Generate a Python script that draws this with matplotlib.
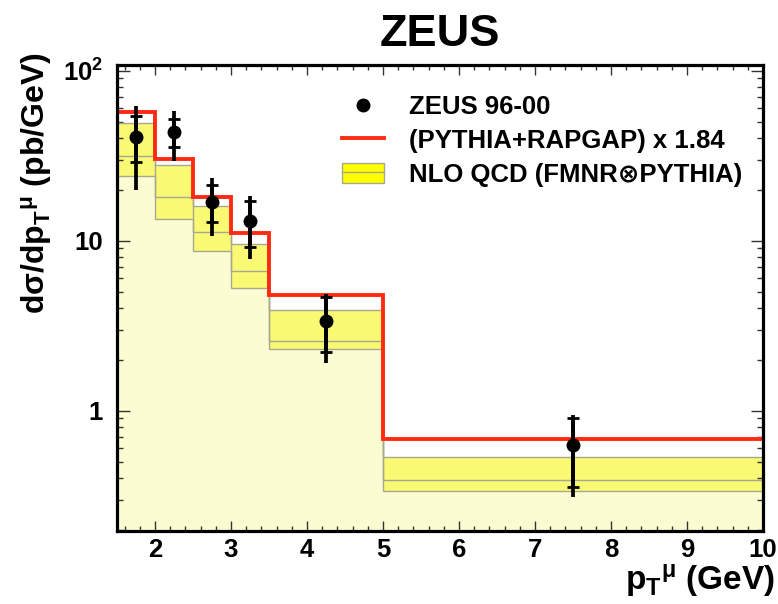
import matplotlib
matplotlib.use("Agg")
import matplotlib.pyplot as plt
from matplotlib.ticker import MultipleLocator, LogLocator, FuncFormatter, NullFormatter
from matplotlib.lines import Line2D
from matplotlib.patches import Patch
import numpy as np

plt.rcParams['font.family'] = ['Liberation Sans', 'DejaVu Sans']
plt.rcParams['font.weight'] = 'bold'
plt.rcParams['mathtext.fontset'] = 'custom'
plt.rcParams['mathtext.rm'] = 'Liberation Sans:bold'
plt.rcParams['mathtext.it'] = 'Liberation Sans:bold'
plt.rcParams['mathtext.bf'] = 'Liberation Sans:bold'
plt.rcParams['mathtext.sf'] = 'Liberation Sans:bold'

# ---- data ----
bin_edges = [1.5, 2.0, 2.5, 3.0, 3.5, 5.0, 10.0]
pt_centers = [1.75, 2.25, 2.75, 3.25, 4.25, 7.5]
zeus_xsec = [40.9, 43.8, 17.0, 13.1, 3.38, 0.63]
zeus_stat_hi = [54.1, 52.0, 21.3, 17.2, 4.65, 0.90]
zeus_stat_lo = [29.2, 35.7, 12.9, 9.2, 2.21, 0.354]
zeus_tot_hi = [62.3, 58.2, 23.3, 18.3, 4.87, 0.94]
zeus_tot_lo = [19.9, 29.6, 10.6, 7.77, 1.91, 0.31]
pythia_rapgap = [56.9, 30.2, 18.0, 11.05, 4.78, 0.682]
nlo_upper = [49.0, 27.9, 15.9, 9.6, 3.93, 0.534]
nlo_central = [31.6, 18.1, 11.2, 6.6, 2.57, 0.389]
nlo_lower = [23.9, 13.4, 8.7, 5.27, 2.31, 0.335]

xticks = [2, 3, 4, 5, 6, 7, 8, 9, 10]
ytick_labels = {1: '1', 10: '10', 100: r'10$^{\mathbf{2}}$'}

W, H = 778, 604
fig = plt.figure(figsize=(W / 100, H / 100), dpi=100)
L, R, T, B = 117, 763, 65, 531
ax = fig.add_axes([L / W, 1 - B / H, (R - L) / W, (B - T) / H])
ax.set_yscale('log')
ax.set_xlim(1.5, 10)
ax.set_ylim(0.196, 108)

band_col = '#f9f974'
pale_col = '#fcfcd2'
gray = '#a8a890'

y = np.array(zeus_xsec)
ax.stairs(nlo_lower, bin_edges, baseline=1e-3, fill=True, color=pale_col, lw=0, zorder=1)
ax.stairs(nlo_upper, bin_edges, baseline=nlo_lower, fill=True, color=band_col, lw=0, zorder=1.5)
for vals in (nlo_upper, nlo_central, nlo_lower):
    ax.stairs(vals, bin_edges, baseline=None, color=gray, lw=1.0, zorder=2)
ax.stairs(pythia_rapgap, bin_edges, baseline=None, color='#ff2a12', lw=2.8, zorder=3)

ax.errorbar(pt_centers, y, yerr=[y - np.array(zeus_tot_lo), np.array(zeus_tot_hi) - y],
            fmt='none', ecolor='black', elinewidth=2.7, capsize=0, zorder=4)
ax.errorbar(pt_centers, y, yerr=[y - np.array(zeus_stat_lo), np.array(zeus_stat_hi) - y],
            fmt='o', color='black', markersize=9, elinewidth=2.7, capsize=4.2, capthick=2.0, zorder=5)

# ticks
ax.set_xticks(xticks)
ax.xaxis.set_minor_locator(MultipleLocator(0.2))
ax.yaxis.set_major_locator(LogLocator(base=10, numticks=10))
ax.yaxis.set_minor_locator(LogLocator(base=10, subs=np.arange(2, 10), numticks=20))
ax.yaxis.set_major_formatter(FuncFormatter(lambda v, p: ytick_labels.get(int(round(v)), '') if v >= 1 else ''))
ax.yaxis.set_minor_formatter(NullFormatter())
ax.tick_params(which='both', direction='in', top=True, right=True, labelsize=18.5, color='#333333')
ax.tick_params(axis='x', which='major', length=7.5, width=1.0, pad=5)
ax.tick_params(axis='x', which='minor', length=3.6, width=1.0)
ax.tick_params(axis='y', which='major', length=9, width=1.0, pad=10)
ax.tick_params(axis='y', which='minor', length=4.5, width=1.0)
for sp in ax.spines.values():
    sp.set_linewidth(2.3)
    sp.set_zorder(6)

# labels
fig.text(440 / W, 1 - 46 / H, 'ZEUS', ha='center', va='baseline', fontsize=32.5, fontweight='bold')
fig.text(775 / W, 1 - 590 / H, r'p$_{\mathbf{T}}$$^{\mu}$ (GeV)', ha='right', va='baseline', fontsize=24)
fig.text(19 / W, 1 - 52 / H, r'd$\sigma$/dp$_{\mathbf{T}}$$^{\mu}$ (pb/GeV)', ha='left', va='top',
         rotation=90, fontsize=23)

# legend
h1 = Line2D([], [], marker='o', color='black', ls='none', markersize=9)
h2 = Line2D([], [], color='#ff2a12', lw=2.8)
h3 = (Patch(facecolor='#ffff00', edgecolor=gray, lw=1.0), Line2D([], [], color=gray, lw=1.0))
leg = ax.legend([h1, h2, h3], ['ZEUS 96-00', '(PYTHIA+RAPGAP) x 1.84', 'NLO QCD (FMNR\u2297PYTHIA)'],
                loc='upper left', bbox_to_anchor=(342 / W, 1 - 95 / H), bbox_transform=fig.transFigure,
                frameon=False, fontsize=18.5, handlelength=1.63, handletextpad=0.97,
                labelspacing=0.38, handleheight=0.82, borderpad=0, borderaxespad=0)
leg.set_zorder(10)

fig.savefig('out.png', dpi=100)
